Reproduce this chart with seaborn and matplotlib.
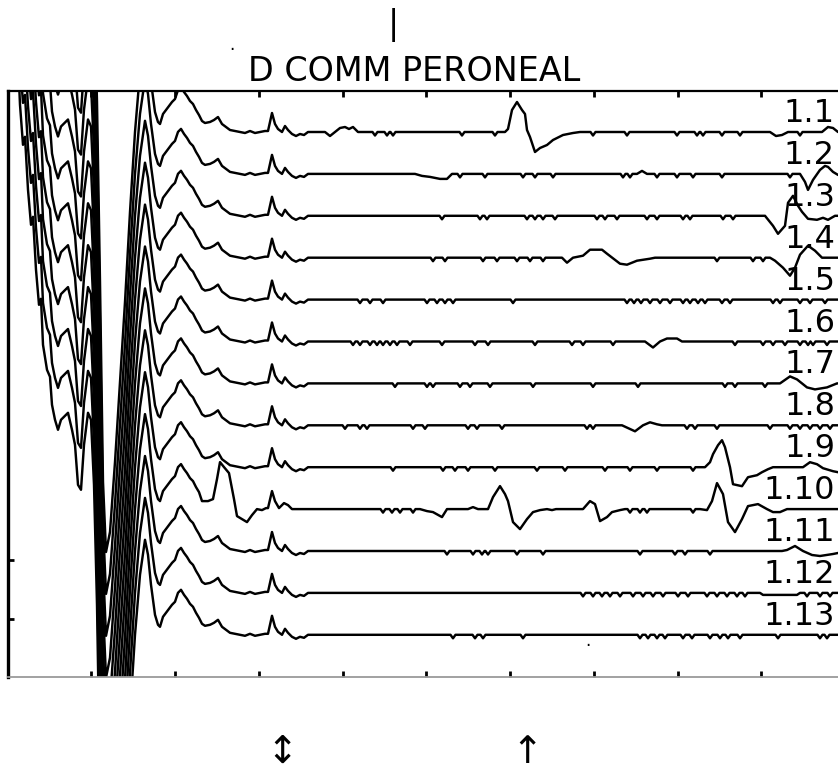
import numpy as np
import pandas as pd
import matplotlib
matplotlib.use("Agg")
import matplotlib.pyplot as plt
import seaborn as sns

sns.set_theme(style="white")
plt.rcParams["font.family"] = ["DejaVu Sans"]

# acquisition / display settings
SAMPLES_PER_MS = 16.75      # 83.75 samples per 5 ms division
SWEEP_STEP_UV = 41.9        # vertical offset between stacked sweeps
NOTCH_UV = -3.5             # depth of the small baseline notches
NOTCH_HALF = 2.5            # half width of a notch, samples
HEAD_END = 304              # last sample of the shared early segment
LAST_SAMPLE = 831

sweep_labels = ["1.1", "1.2", "1.3", "1.4", "1.5", "1.6", "1.7",
                "1.8", "1.9", "1.10", "1.11", "1.12", "1.13"]

# stimulus artefact, M-response tail and early components shared by all sweeps
head_samples = [0, 4, 7, 9, 12, 15, 17, 20, 23, 25,
                28, 31, 33, 35, 39, 42, 44, 47, 50, 53,
                56, 60, 64, 67, 70, 73, 76, 80, 83, 86,
                89, 92, 95, 98, 102, 107, 112, 117, 122, 127,
                132, 137, 140, 143, 147, 150, 152, 155, 158, 161,
                164, 167, 170, 173, 176, 179, 182, 185, 188, 191,
                194, 197, 202, 206, 210, 214, 218, 222, 227, 232,
                237, 242, 247, 252, 257, 260, 264, 267, 270, 274,
                277, 280, 284, 288, 292, 296, 300, 304]
head_uv = [700, 630, 590, 600, 530, 490, 498, 445, 410, 418,
           365, 330, 336, 290, 265, 258, 230, 215, 205, 215,
           218, 222, 205, 190, 150, 145, 190, 222, 215, 150,
           30, -150, -350, -420, -400, -330, -250, -170, -80, 0,
           60, 95, 80, 50, 20, 10, 8, 18, 22, 26,
           30, 33, 42, 45, 40, 36, 31, 28, 22, 17,
           11, 9, 10, 12, 15, 8, 5, 2, 1, 0,
           -1, 1, -1, 0, 1, 1, 19, 8, 3, 0,
           6, 2, -2, -4, -2, -3, 0, 0]

# late activity per sweep: (sample, µV) points and positions of small notches
events_1_1 = [(317, 0), (322, -4), (327, 0), (332, 4), (337, 5), (341, 3), (345, 5), (350, 0),
              (497, 0), (500, 3), (504, 22), (509, 30), (514, 22), (517, 18), (519, 2), (522, -5),
              (527, -20), (532, -16), (539, -13), (545, -8), (555, -3), (565, -1), (572, 0),
              (762, 0), (768, -4), (774, -3), (780, 0), (814, 0), (820, 5), (825, 4), (830, 0)]
notches_1_1 = [367, 379, 385, 454, 487, 585, 619, 669, 689, 695, 714, 732, 792]

events_1_2 = [(407, 0), (414, -2), (422, -3), (432, -5), (439, -5), (444, 0),
              (629, 0), (634, 3), (639, 0),
              (792, 0), (797, -8), (800, -16), (805, -6), (812, 4), (817, 8), (820, 7), (825, 2), (830, -1)]
notches_1_2 = [452, 477, 515, 527, 545, 615, 622, 649, 669, 685, 714, 782]

events_1_3 = [(757, 0), (765, -10), (770, -18), (777, -10), (780, 13), (785, 20), (790, 10),
              (794, 4), (800, -3), (809, -4), (815, -2), (820, -4), (827, 0)]
notches_1_3 = [434, 472, 479, 519, 527, 535, 547, 589, 597, 609, 639, 649, 675, 682, 715, 725]

events_1_4 = [(554, 0), (559, -5), (565, 0), (575, 2), (582, 8), (594, 8), (599, 4), (612, -6),
              (619, -7), (629, -3), (642, -1), (647, 0),
              (762, 0), (767, -3), (775, -10), (782, -18), (787, -10), (792, 3), (800, 12), (807, 7), (814, 0)]
notches_1_4 = [425, 437, 475, 489, 509, 522, 535, 709, 745, 755]

events_1_5 = []
notches_1_5 = [352, 362, 375, 419, 429, 437, 445, 505, 619, 626, 633, 642, 652, 662, 675,
               682, 690, 697, 714, 722, 765, 772, 792, 802, 817]

events_1_6 = [(637, 0), (645, -6), (652, 0), (659, 3), (669, 3), (674, 0)]
notches_1_6 = [345, 352, 362, 369, 375, 382, 389, 402, 434, 467, 480, 527, 564, 575, 605,
               727, 755, 765, 777, 792, 800, 805, 819]

events_1_7 = [(772, 0), (782, 7), (789, 4), (799, -4), (807, -6), (819, -4), (829, 0)]
notches_1_7 = [387, 419, 425, 452, 462, 482, 525, 585, 630, 717, 727, 757]

events_1_8 = [(614, 0), (627, -6), (635, 0), (642, 3), (649, 1), (654, 0)]
notches_1_8 = [337, 352, 359, 405, 417, 460, 469, 494, 579, 585, 679, 687, 709,
               762, 782, 792, 802, 812, 822]

events_1_9 = [(697, 0), (702, 5), (705, 13), (710, 22), (714, 27), (717, 20), (722, 0), (725, -17),
              (734, -19), (740, -10), (749, -8), (754, -5), (760, -2), (765, 0),
              (795, 0), (802, 5), (809, 3), (815, -1), (825, -4), (830, -5)]
notches_1_9 = [385, 435, 447, 460, 487, 529, 557, 597, 622, 649, 685]

# sweep 1.10 carries an extra early potential, so its head diverges after sample 191
head_1_10 = [(194, 8), (200, 8), (205, 10), (209, 30), (212, 47), (216, 42), (221, 36), (226, 10),
             (229, -7), (234, -10), (239, -13), (244, -6), (249, 0), (254, -1), (258, 1), (260, 1),
             (264, 18), (267, 8), (271, 1), (276, 6), (280, 4), (284, 0), (292, 0)]
events_1_10 = [(412, 0), (419, -2), (425, -3), (434, -8), (439, 0), (460, 0), (465, 2), (470, 0),
               (480, 0), (485, 12), (492, 23), (497, 15), (500, 8), (505, -13), (512, -20), (519, -10),
               (525, -3), (532, -1), (539, 0), (544, -1), (548, 0),
               (575, 0), (582, 8), (587, 5), (592, -12), (599, -8), (604, -3), (612, -1), (617, 0),
               (692, 0), (699, -1), (704, 8), (709, 26), (715, 15), (720, -13), (727, -23), (734, -10),
               (740, 3), (750, 5), (759, 0), (765, -3), (772, -3), (779, 0)]
notches_1_10 = [375, 384, 392, 405, 622, 632, 639, 685]

events_1_11 = [(774, 0), (779, 1), (787, 5), (795, 0), (804, -4), (812, -5), (825, -3), (830, -2)]
notches_1_11 = [439, 465, 474, 480, 509, 535, 632, 667, 677, 702]

events_1_12 = [(752, 0), (755, -2), (789, -2), (792, 0)]
notches_1_12 = [575, 585, 594, 602, 612, 625, 635, 645, 655, 670, 680, 699, 709, 719, 729, 737,
                799, 812, 822]

events_1_13 = []
notches_1_13 = [445, 467, 475, 515, 632, 640, 649, 657, 675, 684, 702, 712, 720, 732, 770, 812, 819]

sweep_events = [events_1_1, events_1_2, events_1_3, events_1_4, events_1_5, events_1_6, events_1_7,
                events_1_8, events_1_9, events_1_10, events_1_11, events_1_12, events_1_13]
sweep_notches = [notches_1_1, notches_1_2, notches_1_3, notches_1_4, notches_1_5, notches_1_6,
                 notches_1_7, notches_1_8, notches_1_9, notches_1_10, notches_1_11, notches_1_12,
                 notches_1_13]
head_overrides = {"1.10": (191, head_1_10)}

# the two left-axis marks near the bottom of the sweep stack (µV)
y_marks = [-487, -428]


def sweep_points(label, events, notches):
    cut, extra = head_overrides.get(label, (HEAD_END, []))
    pts = [(s, v) for s, v in zip(head_samples, head_uv) if s <= cut]
    pts += list(extra)
    for n in notches:
        pts += [(n - NOTCH_HALF, 0.0), (n, NOTCH_UV), (n + NOTCH_HALF, 0.0)]
    pts += list(events)
    pts.sort(key=lambda p: p[0])
    pts.append((LAST_SAMPLE + 5, pts[-1][1] if pts[-1][0] >= 826 else 0.0))
    return pts


frames = []
for i, (label, ev, nt) in enumerate(zip(sweep_labels, sweep_events, sweep_notches)):
    pts = np.array(sweep_points(label, ev, nt), dtype=float)
    frames.append(pd.DataFrame({
        "sweep": label,
        "ms": (pts[:, 0] + 0.5) / SAMPLES_PER_MS,
        "uv": pts[:, 1] - i * SWEEP_STEP_UV,
    }))
traces = pd.concat(frames, ignore_index=True)

W, H = 838, 771
fig = plt.figure(figsize=(W / 100, H / 100), dpi=100)
ax = fig.add_axes([7.5 / W, (H - 677) / H, (W - 7.5) / W, 586 / H])

sns.lineplot(data=traces, x="ms", y="uv", units="sweep", estimator=None, sort=False,
             color="black", linewidth=1.75, ax=ax, legend=False)

x_max = (LAST_SAMPLE - 0.5) / SAMPLES_PER_MS
ax.set_xlim(0, x_max)
ax.set_ylim(-545, 41)
ax.set_xlabel("")
ax.set_ylabel("")
ax.set_xticks(np.arange(0, x_max, 5))
ax.set_yticks(y_marks)
ax.tick_params(axis="x", which="both", direction="in", top=True, bottom=True,
               length=4, width=2, color="black", labelbottom=False, labeltop=False)
ax.tick_params(axis="y", which="both", direction="in", left=True, right=False,
               length=4, width=2, color="black", labelleft=False)

ax.spines["right"].set_visible(False)
ax.spines["left"].set_color("black")
ax.spines["left"].set_linewidth(2.4)
ax.spines["top"].set_color("black")
ax.spines["top"].set_linewidth(1.6)
ax.spines["bottom"].set_color("#9a9a9a")
ax.spines["bottom"].set_linewidth(1.3)

label_x = (827 + 0.5) / SAMPLES_PER_MS
for i, label in enumerate(sweep_labels):
    ax.text(label_x, -i * SWEEP_STEP_UV + 10, label, ha="right", va="baseline",
            fontsize=23, color="black", clip_on=False)

# heading with the cursor mark above it
fig.text(393 / W, (H - 34) / H, "|", ha="center", va="baseline", fontsize=24, color="black")
fig.text(232 / W, (H - 50) / H, ".", ha="center", va="baseline", fontsize=12, color="black")
fig.text(414.5 / W, (H - 81) / H, "D COMM PERONEAL", ha="center", va="baseline",
         fontsize=24, color="black")

fig.text(588 / W, (H - 646) / H, ".", ha="center", va="baseline", fontsize=12, color="black")
fig.text(282 / W, 0.0, "\u2195", ha="center", va="bottom", fontsize=27, color="black")
fig.text(527 / W, 0.0, "\u2191", ha="center", va="bottom", fontsize=27, color="black")

fig.savefig("out.png", dpi=100, facecolor="white")
